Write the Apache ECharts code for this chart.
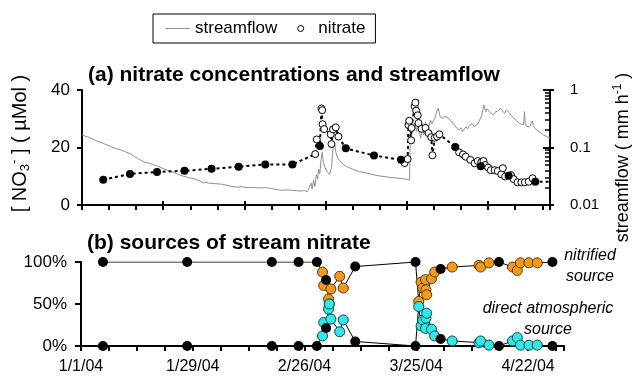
<!DOCTYPE html>
<html>
<head>
<meta charset="utf-8">
<script src="https://cdn.jsdelivr.net/npm/echarts@6/dist/echarts.min.js"></script>
<style>
  html, body { margin: 0; padding: 0; background: #fff; }
  #chart { width: 642px; height: 380px; }
</style>
</head>
<body>
<div id="chart"></div>
<script>
// All x values are days counted from 1 Jan 2004 (day 0).

// ---- x axis tick labels ----
const xLabelDays = [0, 28, 56, 84, 112];
const xLabels = ['1/1/04', '1/29/04', '2/26/04', '3/25/04', '4/22/04'];

// ---- (a) streamflow, mm/h ----
const streamflowDays = [
  0, 1.5, 3, 4.3, 5.5, 6.5, 7.6, 9, 10, 11, 12.5, 13.5, 14.3, 15.2, 16, 17.5, 19.3, 21, 22.7, 24.5,
  26, 27.5, 29.4, 30.5, 31.4, 32, 32.7, 34.5, 36.1, 37.5, 38.6, 40, 41.5, 42.4, 44, 45.7, 47.5, 49.1, 50.5, 51.6,
  53, 54.1, 55.5, 56.6, 57.5, 58.3, 58.8, 59.2, 59.5, 59.9, 60.2, 60.6, 60.9, 61.2, 61.5, 61.8, 62.1, 62.4, 62.8, 63.3,
  64.0, 64.5, 64.9, 65.3, 65.6, 66.0, 66.7, 67.5, 68.3, 70, 71.7, 73.5, 75, 77, 80, 82.5, 84.0, 84.7,
  84.9, 85.3, 85.7, 86.1, 86.5, 86.9, 87.3, 87.6, 88.0, 88.4, 88.8, 89.2, 89.6, 90.1, 90.5, 90.9, 91.3, 91.7, 92.1, 92.6,
  93.0, 93.4, 93.8, 94.3, 94.7, 95.1, 95.5, 95.9, 96.4, 96.8, 97.4, 98.0, 98.4, 98.8, 99.3, 99.7, 100.1, 100.5, 100.9, 101.4,
  101.8, 102.2, 102.6, 103.0, 103.4, 103.9, 104.1, 104.4, 104.7, 105.1, 105.6, 106.0, 106.4, 106.8, 107.2, 107.7, 108.3, 108.8, 109.3, 109.7,
  110.1, 110.5, 110.8, 111.3, 111.8, 112.2, 112.7, 113.1, 113.6, 114.2, 114.4, 114.6, 115.0, 115.8, 116.1, 116.4, 116.7, 117.0, 117.6, 118.1,
  118.7, 119.3, 120.2, 121.0
];
const streamflowValues = [
  0.165, 0.152, 0.138, 0.126, 0.118, 0.110, 0.103, 0.095, 0.091, 0.085, 0.078, 0.070, 0.065, 0.060, 0.056, 0.053, 0.048, 0.043, 0.039, 0.035,
  0.032, 0.030, 0.028, 0.026, 0.024, 0.025, 0.024, 0.0235, 0.023, 0.022, 0.021, 0.0205, 0.0208, 0.020, 0.0202, 0.0198, 0.020, 0.0193, 0.0185, 0.018,
  0.0183, 0.018, 0.0177, 0.0175, 0.0178, 0.017, 0.018, 0.024, 0.019, 0.027, 0.021, 0.034, 0.028, 0.042, 0.035, 0.062, 0.082, 0.055, 0.045, 0.039,
  0.034, 0.045, 0.098, 0.115, 0.085, 0.068, 0.058, 0.051, 0.047, 0.042, 0.038, 0.036, 0.034, 0.032, 0.030, 0.029, 0.028, 0.027,
  0.28, 0.32, 0.22, 0.27, 0.19, 0.25, 0.17, 0.145, 0.26, 0.165, 0.28, 0.19, 0.22, 0.30, 0.26, 0.28, 0.33, 0.42, 0.48, 0.34,
  0.36, 0.32, 0.35, 0.37, 0.33, 0.32, 0.28, 0.26, 0.24, 0.23, 0.20, 0.22, 0.19, 0.20, 0.23, 0.21, 0.24, 0.25, 0.26, 0.23,
  0.22, 0.25, 0.28, 0.30, 0.37, 0.55, 0.59, 0.42, 0.47, 0.45, 0.40, 0.38, 0.37, 0.41, 0.42, 0.44, 0.48, 0.43, 0.39, 0.45,
  0.48, 0.40, 0.37, 0.34, 0.32, 0.30, 0.28, 0.26, 0.255, 0.25, 0.42, 0.26, 0.23, 0.23, 0.26, 0.29, 0.24, 0.22, 0.20, 0.19,
  0.18, 0.165, 0.155, 0.145
];

// ---- (a) nitrate, µmol/L: weekly samples (filled) ----
const weeklyDays = [5.5, 12.4, 19.4, 26.5, 33.5, 40.5, 47.4, 54.4, 61.5, 68.2, 75.5, 82.5, 96.5, 103.1, 110.3, 117.2, 124.5];
const weeklyNitrate = [8.8, 10.8, 11.5, 11.9, 12.6, 13.3, 14.1, 14.1, 20.5, 19.7, 17.2, 15.7, 20.2, 13.5, 10.2, 8.1, 8.1];

// ---- (a) nitrate, µmol/L: storm samples (open) ----
const stormDays = [
  60.3, 60.7, 61.9, 62.1, 62.2, 62.6, 64.3, 64.5, 64.9, 65.6, 66.3,
  83.4, 84.2, 84.4, 84.6, 85.1, 85.2, 86.0, 86.2, 86.4, 86.8, 87.0, 87.8, 88.8, 89.6, 90.3, 90.6, 91.2, 91.8, 92.4,
  97.5, 98.5, 99.2, 100.4, 101.5, 102.3, 103.2, 103.8, 104.2, 105.0, 105.7, 106.7, 107.5, 108.4, 108.8, 109.4, 110.9, 111.6,
  112.6, 113.6, 114.5, 115.5, 116.5
];
const stormNitrate = [
  17.7, 22.8, 33.6, 33.0, 28.1, 26.4, 24.6, 21.2, 26.3, 27.0, 23.8,
  14.6, 16.0, 27.8, 29.3, 22.5, 26.8, 34.3, 35.6, 32.8, 31.2, 28.5, 26.5, 26.8, 25.0, 23.6, 17.3, 23.4, 23.8, 24.6,
  18.3, 17.6, 16.8, 15.7, 14.5, 15.3, 14.9, 15.3, 13.9, 13.0, 12.1, 12.1, 11.8, 10.7, 12.8, 9.9, 10.4, 9.0,
  7.9, 7.9, 7.9, 8.1, 9.3
];

// ---- (b) source fractions, % : weekly samples ----
const isoWeeklyDays = [5.5, 26.6, 47.8, 54.5, 59.1, 61.4, 68.7, 83.8, 90.1, 104.7, 118.1];
const isoWeeklyNitrified = [100, 100, 100, 100, 100, 78.6, 94.6, 100, 91.7, 100, 100];
const isoWeeklyAtmospheric = [0, 0, 0, 0, 0, 21.4, 5.4, 0, 8.3, 0, 0];

// ---- (b) source fractions, % : storm samples ----
const isoStormDays = [
  60.5, 60.8, 62.0, 62.2, 62.6, 64.8, 65.7,
  84.6, 85.2, 85.6, 86.3, 86.4, 86.6, 87.8, 88.6, 93.0, 99.7, 100.1, 102.2, 108.1, 109.3, 110.1, 112.2, 114.3
];
const isoStormNitrified = [
  88, 72, 56, 50, 68, 83, 69,
  53, 76, 69, 79, 67, 61, 80, 88, 94, 96, 94, 99, 94, 90, 99, 99, 99
];
const isoStormAtmospheric = [
  12, 28, 44, 50, 32, 17, 31,
  47, 24, 31, 21, 33, 39, 20, 12, 6, 4, 6, 1, 6, 10, 1, 1, 1
];

// ---- helpers ----
const FONT = '"Liberation Sans", Arial, sans-serif';
const pair = (xs, ys) => xs.map((x, i) => [x, ys[i]]);
const byDay = (a, b) => a[0] - b[0];
const labelFor = v => {
  const i = xLabelDays.indexOf(v);
  return i >= 0 ? xLabels[i] : '';
};

const nitrateSequence = pair(weeklyDays, weeklyNitrate).concat(pair(stormDays, stormNitrate)).sort(byDay);
const nitrifiedSequence = pair(isoWeeklyDays, isoWeeklyNitrified).concat(pair(isoStormDays, isoStormNitrified)).sort(byDay);
const atmosphericSequence = pair(isoWeeklyDays, isoWeeklyAtmospheric).concat(pair(isoStormDays, isoStormAtmospheric)).sort(byDay);

const X_MAX = 121;
const AXIS = { show: true, onZero: false, lineStyle: { color: '#000', width: 2 } };
const TICK = { width: 2, color: '#000' };

const chart = echarts.init(document.getElementById('chart'));

chart.setOption({
  animation: false,
  backgroundColor: '#fff',
  textStyle: { fontFamily: FONT, color: '#000' },
  title: [
    {
      text: '(a) nitrate concentrations and streamflow',
      left: 88, top: 65, padding: 0,
      textStyle: { fontFamily: FONT, fontSize: 21, fontWeight: 'bold', color: '#000' }
    },
    {
      text: '(b) sources of stream nitrate',
      left: 87, top: 233, padding: 0,
      textStyle: { fontFamily: FONT, fontSize: 21, fontWeight: 'bold', color: '#000' }
    }
  ],
  legend: {
    left: 153, top: 14,
    padding: [6, 10, 6, 12],
    borderColor: '#000', borderWidth: 1,
    itemGap: 20, itemWidth: 25, itemHeight: 6,
    textStyle: { fontFamily: FONT, fontSize: 17, color: '#000' },
    data: [
      { name: 'streamflow', icon: 'path://M0,0H25V1H0Z', itemStyle: { color: '#8f8f8f', borderWidth: 0 } },
      { name: 'nitrate', icon: 'circle', itemStyle: { color: '#fff', borderColor: '#000', borderWidth: 1 } }
    ]
  },
  grid: [
    { left: 81, top: 90, width: 483, height: 115 },
    { left: 81, top: 262, width: 483, height: 84 }
  ],
  xAxis: [
    {
      gridIndex: 0, type: 'value', min: 0, max: X_MAX, interval: 7,
      axisLine: AXIS, axisTick: { length: 5, lineStyle: TICK },
      axisLabel: { show: false }, splitLine: { show: false }
    },
    {
      gridIndex: 0, type: 'value', min: 0, max: X_MAX, interval: 21, position: 'bottom',
      axisLine: { show: false, onZero: false }, axisTick: { inside: true, length: 4, lineStyle: TICK },
      axisLabel: { show: false }, splitLine: { show: false }
    },
    {
      gridIndex: 1, type: 'value', min: 0, max: X_MAX, interval: 7,
      axisLine: AXIS, axisTick: { length: 5, lineStyle: TICK },
      axisLabel: { formatter: labelFor, fontSize: 16, color: '#000', margin: 13, fontFamily: FONT },
      splitLine: { show: false }
    }
  ],
  yAxis: [
    {
      gridIndex: 0, type: 'value', min: 0, max: 40, interval: 20,
      axisLine: AXIS,
      axisTick: { show: true, length: 5, lineStyle: TICK },
      axisLabel: { fontSize: 17, color: '#000', margin: 12, fontFamily: FONT },
      splitLine: { show: false },
      name: '[ NO{sub|3}{sup|-} ] ( µMol )',
      nameLocation: 'middle', nameRotate: 90, nameGap: 50,
      nameTextStyle: {
        fontFamily: FONT, fontSize: 20, color: '#000', lineHeight: 24,
        padding: [0, 0, 0, 8],
        rich: {
          sub: { fontSize: 13, verticalAlign: 'bottom', lineHeight: 24, fontFamily: FONT },
          sup: { fontSize: 13, verticalAlign: 'top', lineHeight: 24, fontFamily: FONT }
        }
      }
    },
    {
      gridIndex: 0, type: 'log', logBase: 10, min: 0.01, max: 1, position: 'right',
      axisLine: AXIS,
      axisTick: { show: true, inside: true, length: 7, lineStyle: TICK },
      minorTick: { show: true, splitNumber: 9, length: 5, lineStyle: { width: 1.5, color: '#000' } },
      axisLabel: { fontSize: 15, color: '#000', margin: 20, fontFamily: FONT },
      splitLine: { show: false }, minorSplitLine: { show: false },
      name: 'streamflow ( mm h{sup|-1} )',
      nameLocation: 'middle', nameRotate: 90, nameGap: 62,
      nameTextStyle: {
        fontFamily: FONT, fontSize: 18, color: '#000', lineHeight: 22,
        padding: [0, 20, 0, 0],
        rich: { sup: { fontSize: 12, verticalAlign: 'top', lineHeight: 22, fontFamily: FONT } }
      }
    },
    {
      gridIndex: 0, type: 'log', logBase: 10, min: 0.01, max: 1, position: 'right',
      axisLine: { show: false, onZero: false },
      axisTick: { show: true, length: 4, lineStyle: TICK },
      axisLabel: { show: false }, splitLine: { show: false }
    },
    {
      gridIndex: 1, type: 'value', min: 0, max: 100, interval: 50,
      axisLine: AXIS,
      axisTick: { show: true, length: 6, lineStyle: TICK },
      axisLabel: { formatter: '{value}%', fontSize: 17, color: '#000', margin: 14, fontFamily: FONT },
      splitLine: { show: false }
    }
  ],
  series: [
    {
      name: 'streamflow', type: 'line', xAxisIndex: 0, yAxisIndex: 1,
      data: pair(streamflowDays, streamflowValues),
      symbol: 'none', z: 1,
      lineStyle: { color: '#8f8f8f', width: 1 }, itemStyle: { color: '#8f8f8f' }
    },
    {
      name: 'nitrate series', type: 'line', xAxisIndex: 0, yAxisIndex: 0,
      data: nitrateSequence, symbol: 'none', z: 2, silent: true,
      lineStyle: { color: '#000', width: 2, type: [3, 3] }
    },
    {
      name: 'nitrate weekly', type: 'scatter', xAxisIndex: 0, yAxisIndex: 0,
      data: pair(weeklyDays, weeklyNitrate), symbol: 'circle', symbolSize: 8, z: 4,
      itemStyle: { color: '#000', opacity: 1 }
    },
    {
      name: 'nitrate', type: 'scatter', xAxisIndex: 0, yAxisIndex: 0,
      data: pair(stormDays, stormNitrate), symbol: 'circle', symbolSize: 7, z: 3,
      itemStyle: { color: '#fff', borderColor: '#000', borderWidth: 1, opacity: 1 }
    },
    {
      name: 'nitrified line', type: 'line', xAxisIndex: 2, yAxisIndex: 3,
      data: nitrifiedSequence, symbol: 'none', z: 2, silent: true,
      lineStyle: { color: '#000', width: 1 }
    },
    {
      name: 'atmospheric line', type: 'line', xAxisIndex: 2, yAxisIndex: 3,
      data: atmosphericSequence, symbol: 'none', z: 2, silent: true,
      lineStyle: { color: '#000', width: 1 }
    },
    {
      name: 'nitrified source', type: 'scatter', xAxisIndex: 2, yAxisIndex: 3,
      data: pair(isoStormDays, isoStormNitrified), symbolSize: 10, z: 3,
      itemStyle: { color: '#f39a1e', borderColor: '#5a3a00', borderWidth: 1, opacity: 1 }
    },
    {
      name: 'direct atmospheric source', type: 'scatter', xAxisIndex: 2, yAxisIndex: 3,
      data: pair(isoStormDays, isoStormAtmospheric), symbolSize: 10, z: 3,
      itemStyle: { color: '#33e8ea', borderColor: '#0a4a4a', borderWidth: 1, opacity: 1 }
    },
    {
      name: 'weekly nitrified', type: 'scatter', xAxisIndex: 2, yAxisIndex: 3,
      data: pair(isoWeeklyDays, isoWeeklyNitrified), symbolSize: 10, z: 4,
      itemStyle: { color: '#000', opacity: 1 }
    },
    {
      name: 'weekly atmospheric', type: 'scatter', xAxisIndex: 2, yAxisIndex: 3,
      data: pair(isoWeeklyDays, isoWeeklyAtmospheric), symbolSize: 10, z: 4,
      itemStyle: { color: '#000', opacity: 1 }
    }
  ],
  graphic: [
    {
      type: 'text', x: 590, y: 266,
      style: {
        text: 'nitrified\nsource', textAlign: 'center', textVerticalAlign: 'middle',
        font: 'italic 16px ' + FONT, lineHeight: 21, fill: '#000'
      }
    },
    {
      type: 'text', x: 548, y: 319,
      style: {
        text: 'direct atmospheric\nsource', textAlign: 'center', textVerticalAlign: 'middle',
        font: 'italic 16px ' + FONT, lineHeight: 21, fill: '#000'
      }
    }
  ]
});
</script>
</body>
</html>
